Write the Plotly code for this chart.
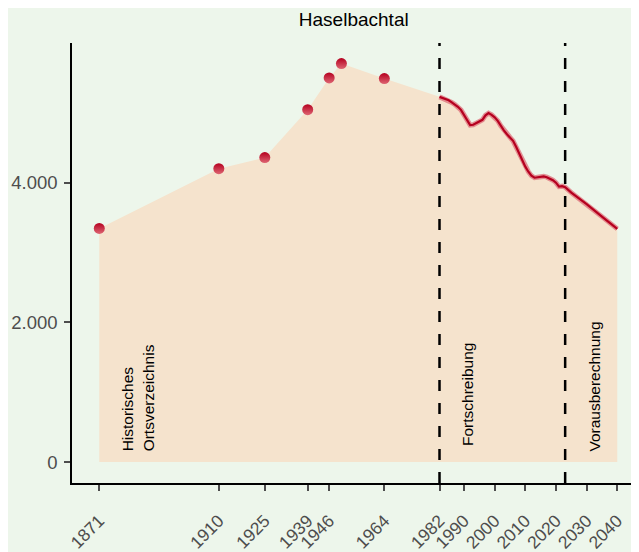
import plotly.graph_objects as go

# Historical census points (Historisches Ortsverzeichnis)
hist_years = [1871, 1910, 1925, 1939, 1946, 1950, 1964]
hist_values = [3345, 4200, 4360, 5045, 5500, 5705, 5490]

# Annual update (Fortschreibung)
fort_years = list(range(1982, 2024))
fort_values = [5229, 5214, 5193, 5179, 5150, 5121, 5086, 5043, 4971, 4893,
               4824, 4829, 4850, 4871, 4900, 4964, 4996, 4971, 4936, 4886,
               4814, 4750, 4693, 4650, 4600, 4514, 4414, 4314, 4229, 4157,
               4100, 4071, 4079, 4093, 4090, 4079, 4061, 4036, 4000, 3943,
               3950, 3936]

# Projection (Vorausberechnung)
proj_years = [2023, 2025, 2030, 2035, 2040]
proj_values = [3936, 3857, 3693, 3514, 3339]

tick_years = [1871, 1910, 1925, 1939, 1946, 1964, 1982, 1990, 2000, 2010, 2020, 2030, 2040]
y_ticks = [0, 2000, 4000]
y_ticklabels = ["0", "2.000", "4.000"]

break_years = [1982, 2023]
section_labels = ["Historisches<br>Ortsverzeichnis", "Fortschreibung", "Vorausberechnung"]
section_x = [1883.6, 1991.1, 2032.7]
section_y = [130, 200, 120]

title = "Haselbachtal"

FONT = "Liberation Sans, Arial, sans-serif"
BG = "#EDF6EB"
RED = "#B5001F"

all_years = hist_years + fort_years + proj_years[1:]
all_values = hist_values + fort_values + proj_values[1:]
line_years = fort_years + proj_years[1:]
line_values = fort_values + proj_values[1:]

fig = go.Figure()

fig.add_trace(go.Scatter(
    x=all_years, y=all_values, mode="none", fill="tozeroy",
    fillcolor="#F5E3CD", hoverinfo="skip", showlegend=False))

fig.add_trace(go.Scatter(
    x=line_years, y=line_values, mode="lines",
    line=dict(color="rgba(222,110,120,0.75)", width=5),
    hoverinfo="skip", showlegend=False))
fig.add_trace(go.Scatter(
    x=line_years, y=line_values, mode="lines",
    line=dict(color=RED, width=2.2),
    showlegend=False))

fig.add_trace(go.Scatter(
    x=hist_years, y=hist_values, mode="markers",
    marker=dict(size=11, color=RED, line=dict(width=0),
                gradient=dict(type="vertical", color="#DE6673")),
    showlegend=False))

for yr in break_years:
    fig.add_shape(type="line", xref="x", yref="paper", x0=yr, x1=yr, y0=0, y1=1,
                  line=dict(color="black", width=2.5, dash="11px,12px"), layer="above")

for txt, xx, yy in zip(section_labels, section_x, section_y):
    fig.add_annotation(x=xx, y=yy, xref="x", yref="y", text=txt, textangle=-90,
                       showarrow=False, xanchor="center", yanchor="bottom", align="left",
                       font=dict(family=FONT, size=15.5, color="black"))

fig.update_layout(
    width=639, height=552,
    margin=dict(l=64, r=0, t=35, b=77, autoexpand=False),
    paper_bgcolor=BG, plot_bgcolor=BG,
    font=dict(family=FONT),
    title=dict(text=title, xref="paper", x=0.49, xanchor="center",
               yref="container", y=0.98, yanchor="middle",
               font=dict(family=FONT, size=19, color="black")),
    showlegend=False,
)

fig.update_xaxes(
    automargin=False,
    range=[1862.1, 2049.7], tickvals=tick_years, ticktext=[str(t) for t in tick_years],
    tickangle=-45, showgrid=False, zeroline=False,
    showline=True, linecolor="black", linewidth=1.5,
    ticks="outside", ticklen=6, tickwidth=2, tickcolor="#4D4D4D",
    ticklabelstandoff=13,
    tickfont=dict(family=FONT, size=17.5, color="#4D4D4D"))

fig.update_yaxes(
    automargin=False,
    range=[-300, 6000], tickvals=y_ticks, ticktext=y_ticklabels,
    showgrid=False, zeroline=False,
    showline=True, linecolor="black", linewidth=1.5,
    ticks="outside", ticklen=6, tickwidth=2, tickcolor="#4D4D4D",
    ticklabelstandoff=3,
    tickfont=dict(family=FONT, size=18.5, color="#4D4D4D"))

fig.write_html("out.html")
